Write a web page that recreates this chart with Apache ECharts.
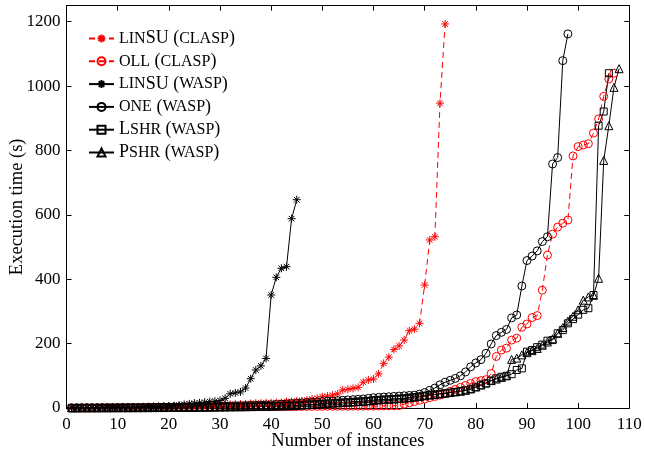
<!DOCTYPE html>
<html><head><meta charset="utf-8">
<script src="https://cdn.jsdelivr.net/npm/echarts@6/dist/echarts.min.js"></script>
<style>html,body{margin:0;padding:0;background:#fff}#c{width:645px;height:454px}</style>
</head><body><div id="c"></div>
<script>
const seriesNames = ['linSU (clasp)','oll (clasp)','linSU (wasp)','one (wasp)','lshr (wasp)','pshr (wasp)'];
const legendRich = {
  'linSU (clasp)': '{s|LIN}{b|SU (}{s|CLASP}{b|)}',
  'oll (clasp)': '{s|OLL}{b| (}{s|CLASP}{b|)}',
  'linSU (wasp)': '{s|LIN}{b|SU (}{s|WASP}{b|)}',
  'one (wasp)': '{s|ONE}{b| (}{s|WASP}{b|)}',
  'lshr (wasp)': '{b|L}{s|SHR}{b| (}{s|WASP}{b|)}',
  'pshr (wasp)': '{b|P}{s|SHR}{b| (}{s|WASP}{b|)}'
};
const xTickMax = 110;
const yTickMax = 1250;

const linsuClasp = [0.5,0.6,0.8,1,1.2,1.4,1.6,1.8,2,2.2,
  2.5,2.8,3,3.3,3.6,4,4.3,4.6,5,5.3,
  5.6,6,6.5,7,7.5,8,8.5,9,9.5,10,
  10.5,11,11.5,12,13,14,15,15,16,16,
  17,17,20,20,22,22,25,28,30,35,
  37,40,44,56,58,61,64,80,87,90,
  106,139,158,182,193,211,240,245,263,382,
  522,532,947,1193];
const ollClasp = [0.3,0.4,0.5,0.5,0.6,0.7,0.8,0.9,1,1.1,
  1.2,1.3,1.4,1.5,1.6,1.7,1.8,1.9,2,2.1,
  2.2,2.3,2.4,2.5,2.6,2.7,2.8,2.9,3,3.1,
  3.2,3.3,3.4,3.5,3.6,3.7,3.8,3.9,4,4.1,
  4.2,4.3,4.4,4.5,4.6,4.7,4.8,4.9,5,5.1,
  5.2,5.3,5.4,5.5,5.6,5.7,5.8,5.9,6,6.2,
  6.4,6.6,6.8,7,7.5,12,16,20,24,28,
  32,36,40,45,52,58,64,70,76,82,
  85,88,107,160,180,186,211,217,251,261,
  281,287,366,475,540,562,574,584,783,812,
  817,821,854,898,968,1022,1040];
const linsuWasp = [0.3,0.4,0.5,0.6,0.7,0.8,1,1.2,1.4,1.6,
  1.8,2,2.3,2.6,3,3.4,3.8,4.2,5,6,
  7,9,11,13,15,16,18,20,21,23,
  30,44,47,50,62,91,118,131,154,351,
  406,434,439,588,647];
const oneWasp = [0.3,0.4,0.5,0.6,0.7,0.8,0.9,1,1.1,1.2,
  1.3,1.4,1.5,1.6,1.8,2,2.2,2.4,2.6,2.8,
  3,3.2,3.4,3.6,3.8,4,4.3,4.6,5,5.4,
  5.8,6.2,6.6,7,7.5,8,8.5,9,9.5,10,
  11,12,13,14,15,16,17,18,19,20,
  21,22,23,24,25,26,27,28,30,32,
  33,34,35,36,37,38,39,40,43,48,
  55,62,72,80,86,92,100,112,128,140,
  150,170,199,225,235,244,280,289,379,458,
  472,488,517,532,758,778,1079,1162];
const lshrWasp = [0.2,0.3,0.4,0.4,0.5,0.5,0.6,0.6,0.7,0.7,
  0.8,0.8,0.9,0.9,1,1.1,1.2,1.3,1.4,1.5,
  1.6,1.7,1.8,1.9,2,2.2,2.4,2.6,2.8,3,
  3.2,3.4,3.6,3.8,4,4.3,4.6,5,5.3,5.6,
  6,6.3,6.6,7,7.5,9,10,11,12,13,
  14,15,16,17,18,19,20,21,22,24,
  25,26,27,28,29,30,32,34,36,38,
  40,42,44,46,48,50,52,55,58,64,
  70,76,85,92,97,100,105,118,123,175,
  180,189,197,209,211,232,242,263,276,290,
  305,310,351,877,921,1040];
const pshrWasp = [0.2,0.3,0.4,0.4,0.5,0.5,0.6,0.6,0.7,0.7,
  0.8,0.8,0.9,0.9,1,1.1,1.2,1.3,1.4,1.5,
  1.6,1.7,1.8,1.9,2,2.2,2.4,2.6,2.8,3,
  3.2,3.4,3.6,3.8,4,4.3,4.6,5,5.3,5.6,
  6,6.3,6.6,7,7.5,9,10,11,12,13,
  14,15,16,17,18,19,20,21,22,24,
  25,26,27,28,29,30,32,34,36,38,
  40,42,44,46,48,50,52,55,60,66,
  72,78,85,90,95,100,151,155,165,172,
  178,185,195,205,215,232,250,270,285,305,
  335,345,350,403,769,877,996,1054];

const STAR = 'path://M5,0L5,10M0,5L10,5M1.5,1.5L8.5,8.5M1.5,8.5L8.5,1.5';
const SQUARE = 'path://M0,0L10,0L10,10L0,10Z';
const RED = '#ff0000', BLACK = '#000000';
const FONT = 'Liberation Serif';

function toPairs(arr){ return arr.map((v,i)=>[i+1, v]); }
function mk(name, data, color, symbol, size, dashed){
  return {
    name, type:'line', data: toPairs(data), xAxisIndex:0, yAxisIndex:0,
    symbol, symbolSize:size, showAllSymbol:true, animation:false,
    lineStyle:{color, width:1, type: dashed ? [6,4] : 'solid'},
    itemStyle:{color:'transparent', borderColor:color, borderWidth:1},
    emphasis:{disabled:true}
  };
}

const chart = echarts.init(document.getElementById('c'), null, {renderer:'canvas'});
const axisCommon = {
  axisLine:{show:true, onZero:false, lineStyle:{color:'#000', width:1}},
  axisTick:{show:true, inside:true, length:5, lineStyle:{color:'#000'}},
  splitLine:{show:false}
};
chart.setOption({
  animation:false,
  backgroundColor:'#fff',
  grid:{left:66.5, right:15.7, top:5.6, bottom:46, containLabel:false, outerBoundsMode:'none'},
  legend:{
    orient:'vertical', left:88, top:29.5, padding:0, itemWidth:25, itemHeight:10, itemGap:4.8,
    data: seriesNames,
    formatter: n => legendRich[n],
    textStyle:{color:'#000', fontFamily:FONT, fontSize:17, lineHeight:16,
      rich:{ b:{fontFamily:FONT, fontSize:18, color:'#000', lineHeight:16},
             s:{fontFamily:FONT, fontSize:16, color:'#000', lineHeight:16} } }
  },
  xAxis:[
    Object.assign({type:'value', min:0, max:xTickMax, interval:10, position:'bottom',
      name:'Number of instances', nameLocation:'middle', nameGap:24, nameMoveOverlap:false,
      nameTextStyle:{fontFamily:FONT, fontSize:18.5, color:'#000'},
      axisLabel:{fontFamily:FONT, fontSize:17, color:'#000', margin:8}}, axisCommon),
    Object.assign({type:'value', min:0, max:xTickMax, interval:10, position:'top',
      axisLabel:{show:false}}, axisCommon)
  ],
  yAxis:[
    Object.assign({type:'value', min:0, max:yTickMax, interval:200, position:'left',
      name:'Execution time (s)', nameLocation:'middle', nameGap:40, nameMoveOverlap:false,
      nameTextStyle:{fontFamily:FONT, fontSize:18.5, color:'#000'},
      axisLabel:{fontFamily:FONT, fontSize:17, color:'#000', margin:6, showMaxLabel:false,
        formatter: v => String(v)}}, axisCommon),
    Object.assign({type:'value', min:0, max:yTickMax, interval:200, position:'right',
      axisLabel:{show:false}}, axisCommon)
  ],
  series:[
    mk('linSU (clasp)', linsuClasp, RED, STAR, 8, true),
    mk('oll (clasp)', ollClasp, RED, 'circle', 8, true),
    mk('linSU (wasp)', linsuWasp, BLACK, STAR, 8, false),
    mk('one (wasp)', oneWasp, BLACK, 'circle', 8, false),
    mk('lshr (wasp)', lshrWasp, BLACK, SQUARE, 7, false),
    mk('pshr (wasp)', pshrWasp, BLACK, 'triangle', 8, false)
  ]
});
</script>
</body></html>
